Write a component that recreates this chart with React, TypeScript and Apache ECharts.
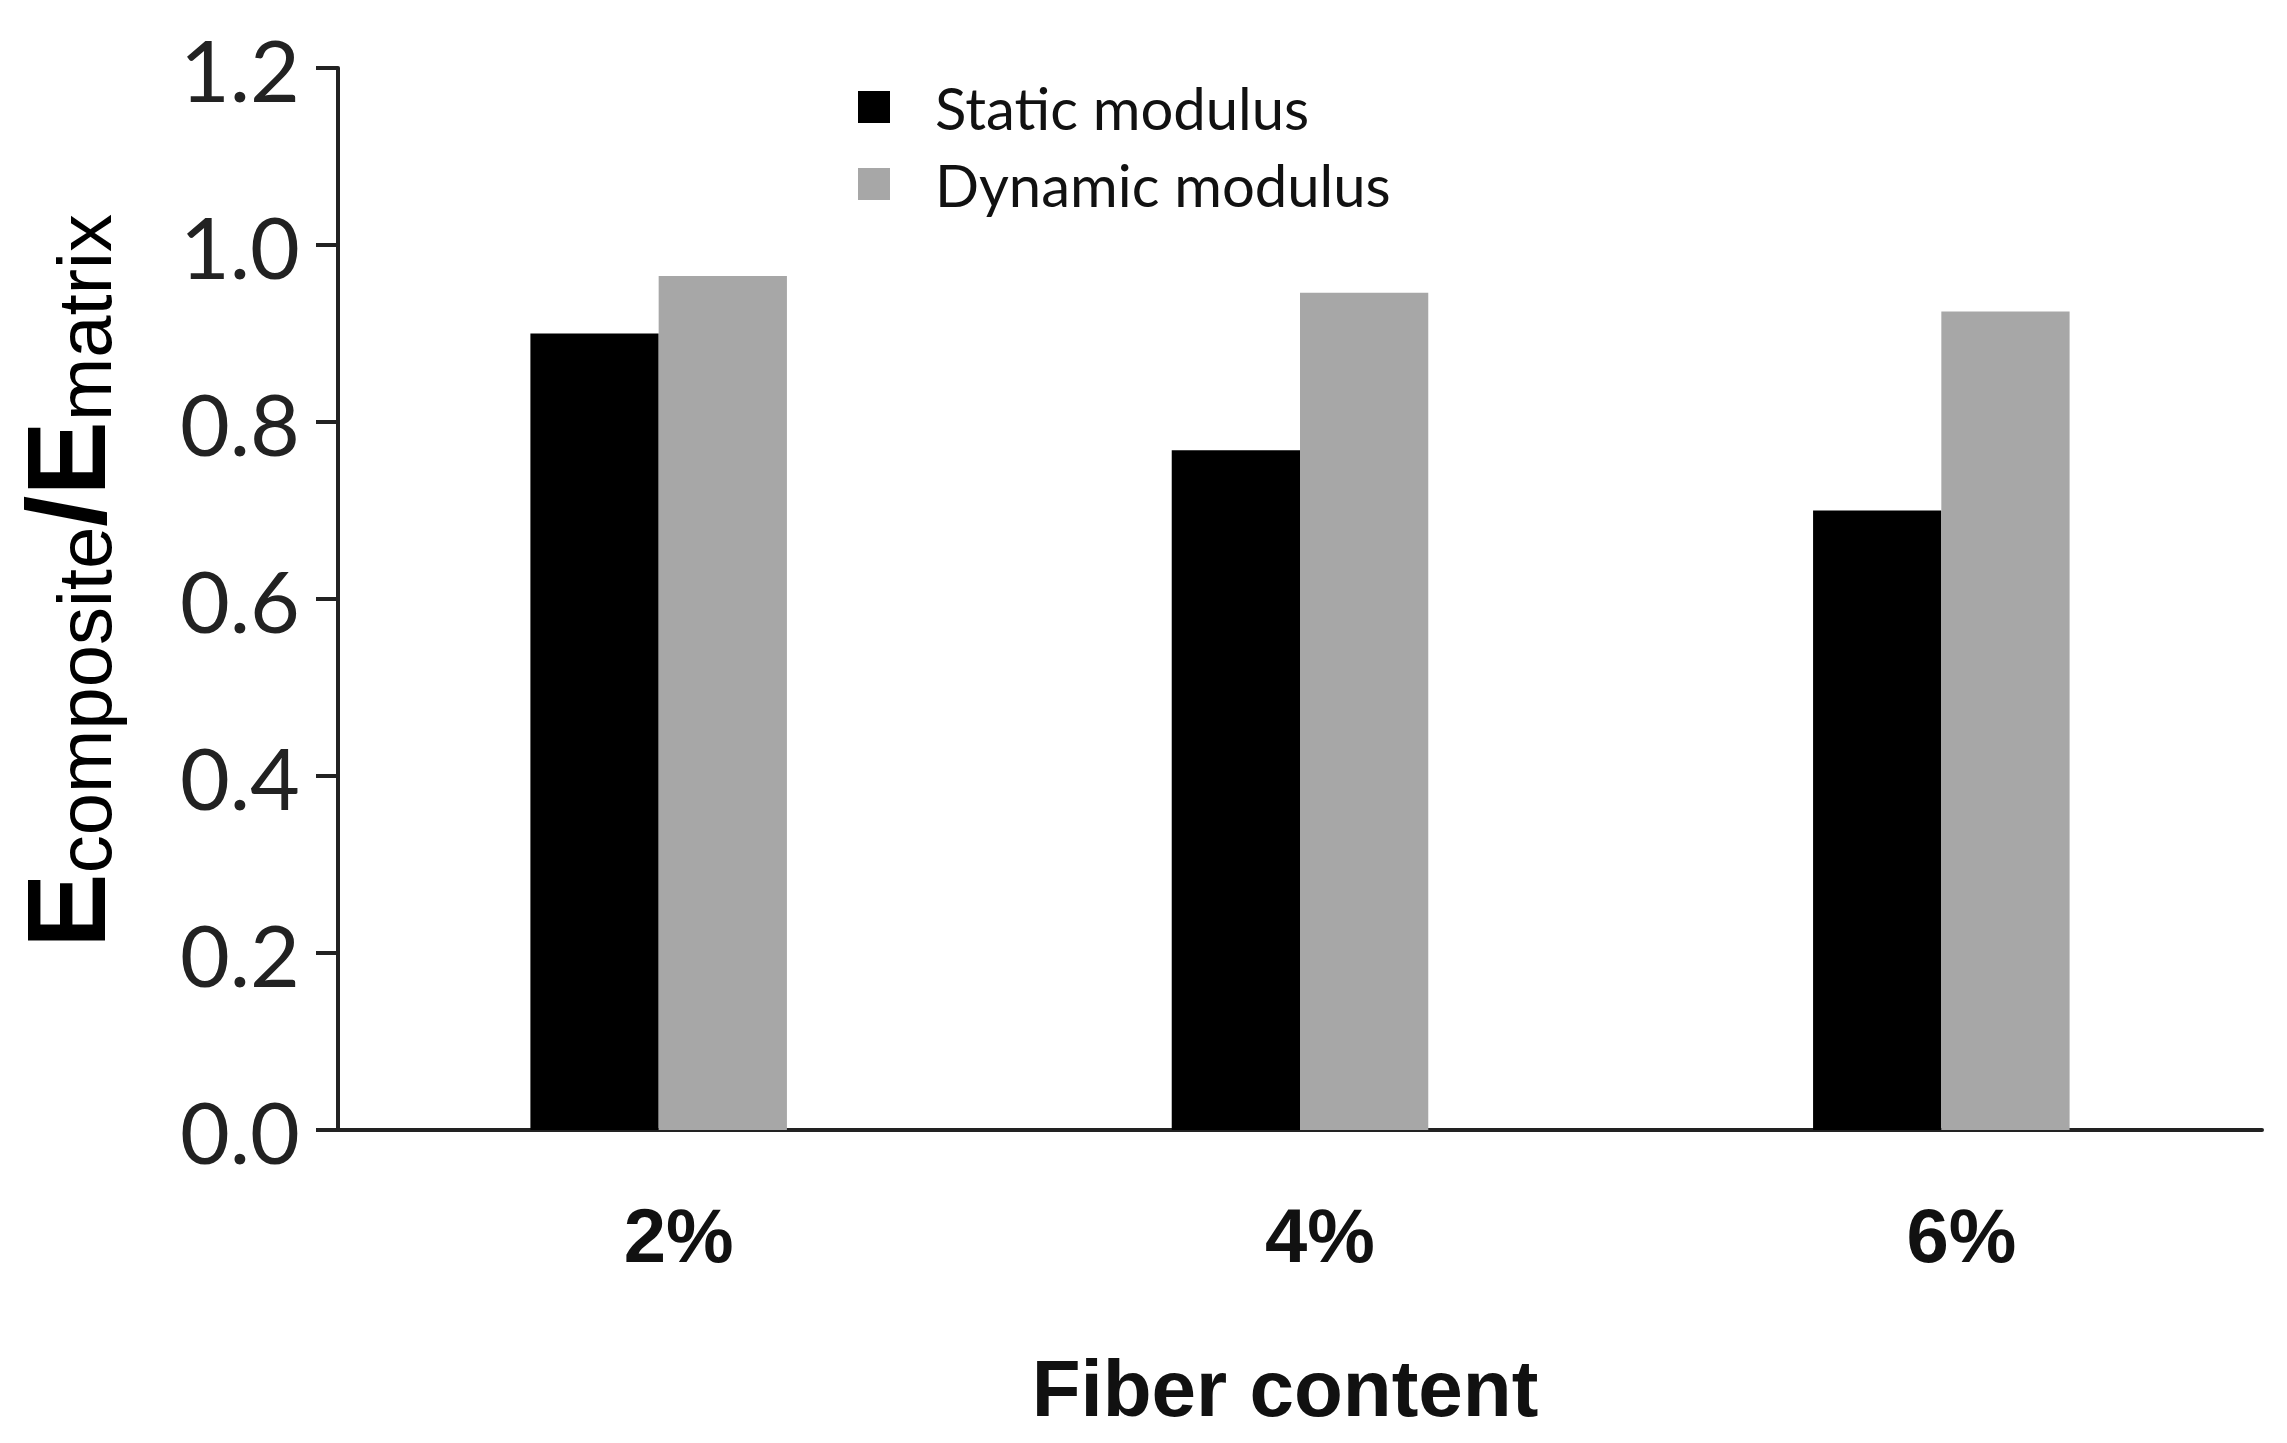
import React, { useEffect, useRef } from "react";
import * as echarts from "echarts";

const categories = ["2%", "4%", "6%"];
const staticModulus = [0.9, 0.768, 0.7];
const dynamicModulus = [0.965, 0.946, 0.925];
const seriesNames = ["Static modulus", "Dynamic modulus"];
const yTicks = { min: 0, max: 1.2, interval: 0.2 };

export default function App() {
  const ref = useRef<HTMLDivElement>(null);
  useEffect(() => {
    if (!ref.current) return;
    const chart = echarts.init(ref.current, null, { renderer: "svg" });
    chart.setOption({
      animation: false,
      backgroundColor: "#ffffff",
      grid: { left: 338, right: 25, top: 68, bottom: 313, containLabel: false },
      legend: {
        orient: "vertical",
        left: 853,
        top: 73,
        itemWidth: 32,
        itemHeight: 32,
        itemGap: 19,
        icon: "rect",
        data: seriesNames,
        textStyle: {
          fontFamily: "Lato",
          fontSize: 58,
          color: "#111",
          padding: [0, 0, 0, 40],
        },
      },
      xAxis: {
        type: "category",
        data: categories,
        axisLine: { lineStyle: { color: "#222", width: 4 } },
        axisTick: { show: false },
        axisLabel: {
          fontFamily: "Liberation Sans",
          fontWeight: "bold",
          fontSize: 76,
          color: "#111",
          margin: 67,
          padding: [0, 0, 0, 40],
        },
        name: "Fiber content",
        nameLocation: "middle",
        nameGap: 218,
        nameTextStyle: {
          fontFamily: "Liberation Sans",
          fontWeight: "bold",
          fontSize: 80,
          color: "#111",
          padding: [0, 30, 0, 0],
        },
      },
      yAxis: {
        type: "value",
        min: yTicks.min,
        max: yTicks.max,
        interval: yTicks.interval,
        splitLine: { show: false },
        axisLine: { show: true, lineStyle: { color: "#222", width: 4 } },
        axisTick: { show: true, length: 22, lineStyle: { color: "#222", width: 4 } },
        axisLabel: {
          fontFamily: "Lato",
          fontSize: 86,
          color: "#222",
          margin: 38,
          formatter: (v: number) => v.toFixed(1),
        },
        name: "{E|E}{sub|composite}{E|/E}{sub|matrix}",
        nameLocation: "middle",
        nameRotate: 90,
        nameGap: 216,
        nameTextStyle: {
          padding: [0, 0, 0, 36],
          rich: {
            E: {
              fontFamily: "Liberation Sans",
              fontWeight: "bold",
              fontSize: 112,
              lineHeight: 112,
              color: "#000",
              verticalAlign: "bottom",
            },
            sub: {
              fontFamily: "Liberation Sans",
              fontSize: 76,
              lineHeight: 76,
              color: "#000",
              verticalAlign: "bottom",
            },
          },
        },
      },
      series: [
        {
          name: seriesNames[0],
          type: "bar",
          data: staticModulus,
          barWidth: "20%",
          barGap: "0%",
          itemStyle: { color: "#000000" },
        },
        {
          name: seriesNames[1],
          type: "bar",
          data: dynamicModulus,
          barWidth: "20%",
          barGap: "0%",
          itemStyle: { color: "#a7a7a7" },
        },
      ],
    });
    return () => chart.dispose();
  }, []);
  return (
    <div
      ref={ref}
      style={{ position: "fixed", left: 0, top: 0, width: "2287px", height: "1443px" }}
    />
  );
}
